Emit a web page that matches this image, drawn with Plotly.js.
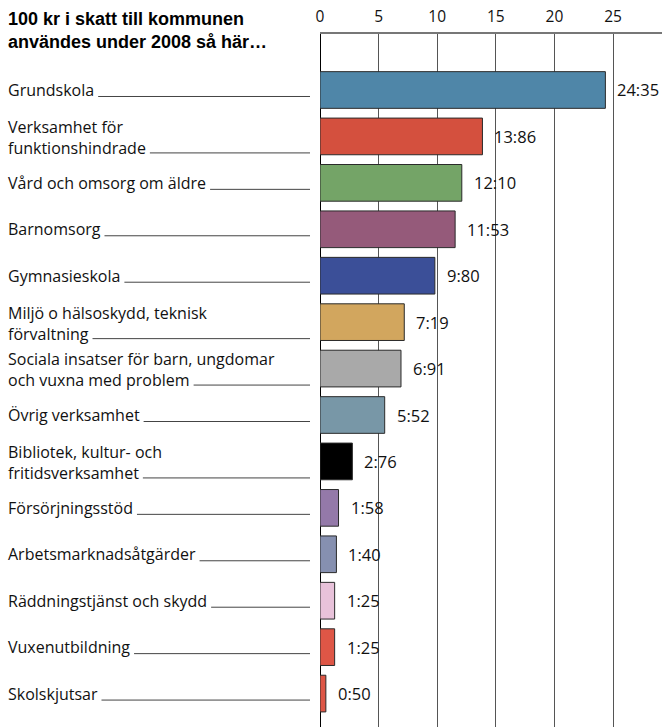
<!DOCTYPE html>
<html>
<head>
<meta charset="utf-8">
<script src="https://cdn.plot.ly/plotly-3.0.1.min.js"></script>
<style>html,body{margin:0;padding:0;background:#fff;}#chart{width:662px;height:727px;}</style>
</head>
<body>
<div id="chart"></div>
<script>
const categories = [
  'Grundskola',
  'Verksamhet för<br>funktionshindrade',
  'Vård och omsorg om äldre',
  'Barnomsorg',
  'Gymnasieskola',
  'Miljö o hälsoskydd, teknisk<br>förvaltning',
  'Sociala insatser för barn, ungdomar<br>och vuxna med problem',
  'Övrig verksamhet',
  'Bibliotek, kultur- och<br>fritidsverksamhet',
  'Försörjningsstöd',
  'Arbetsmarknadsåtgärder',
  'Räddningstjänst och skydd',
  'Vuxenutbildning',
  'Skolskjutsar'
];
const values = [24.35, 13.86, 12.10, 11.53, 9.80, 7.19, 6.91, 5.52, 2.76, 1.58, 1.40, 1.25, 1.25, 0.50];
const barColors = ['#4f86a8', '#d4503e', '#74a467', '#955a7a', '#3b4f98', '#d2a65e', '#a9a9a9', '#7897a7', '#000000', '#9479a9', '#8690b0', '#e8c2da', '#de5646', '#de5646'];
const tickVals = [0, 5, 10, 15, 20, 25];
const titleText = '100 kr i skatt till kommunen<br>användes under 2008 så här…';

const plotLeft = 320, plotW = 342;
const textLeftPx = 8;
const labelSize = 16;
const labelX = (textLeftPx - 3 - plotLeft) / plotW;
const lineEndX = (310 - plotLeft) / plotW;
const labelFont = {family: 'Open Sans, sans-serif', size: labelSize, color: '#111'};

const ctx = document.createElement('canvas').getContext('2d');
ctx.font = labelSize + 'px "Open Sans"';

const annotations = [];
const shapes = [];
categories.forEach((c, i) => {
  const parts = c.split('<br>');
  const twoLine = parts.length > 1;
  const lastW = ctx.measureText(parts[parts.length - 1]).width;
  annotations.push({
    x: labelX, xref: 'paper', xanchor: 'left', align: 'left',
    y: c, yref: 'y', yanchor: 'middle', yshift: twoLine ? -1 : 0,
    text: c, showarrow: false, borderpad: 2,
    font: labelFont
  });
  shapes.push({
    type: 'line', xref: 'paper',
    x0: (textLeftPx + lastW + 4 - plotLeft) / plotW, x1: lineEndX,
    yref: 'y', ysizemode: 'pixel', yanchor: c,
    y0: twoLine ? -16.5 : -6.5, y1: twoLine ? -16.5 : -6.5,
    line: {color: '#444', width: 1}, layer: 'below'
  });
  annotations.push({
    x: values[i], xref: 'x', xanchor: 'left', xshift: 10,
    y: c, yref: 'y', yanchor: 'middle',
    text: values[i].toFixed(2).replace('.', ':'), showarrow: false,
    font: {family: 'Open Sans, sans-serif', size: 16.5, color: '#111'}
  });
});

// small white break in the grid just under the top axis line
shapes.push({
  type: 'rect', xref: 'x', x0: 0.15, x1: plotW / 11.72,
  yref: 'paper', ysizemode: 'pixel', yanchor: 1, y0: -16, y1: -24,
  fillcolor: '#ffffff', line: {width: 0}, layer: 'between'
});

const trace = {
  type: 'bar', orientation: 'h',
  x: values, y: categories,
  marker: {color: barColors, line: {color: '#2a2a2a', width: 1}},
  hoverinfo: 'skip'
};

const layout = {
  width: 662, height: 727,
  margin: {l: plotLeft, r: 0, t: 34, b: 0, pad: 0},
  paper_bgcolor: '#fff', plot_bgcolor: '#fff',
  showlegend: false,
  bargap: 0.21,
  title: {
    text: titleText, x: 8 / 662, xanchor: 'left', xref: 'container',
    y: 1 - 25 / 727, yanchor: 'middle', yref: 'container',
    font: {family: 'Liberation Sans, Arial, sans-serif', size: 18, color: '#000', weight: 'bold'}
  },
  xaxis: {
    side: 'top', range: [0, plotW / 11.72], autorange: false,
    tickvals: tickVals, ticktext: tickVals.map(String),
    ticks: '', showgrid: true, gridcolor: '#555', gridwidth: 1,
    zeroline: true, zerolinecolor: '#000', zerolinewidth: 1,
    showline: true, linecolor: '#777', linewidth: 2,
    tickfont: {family: 'Open Sans, sans-serif', size: 15.5, color: '#111'},
    ticklabelstandoff: 4, fixedrange: true
  },
  yaxis: {
    type: 'category', categoryorder: 'array', categoryarray: categories,
    range: [13.72, -1.206], autorange: false,
    showticklabels: false, ticks: '', showgrid: false, zeroline: false, showline: false
  },
  annotations: annotations,
  shapes: shapes
};

Plotly.newPlot('chart', [trace], layout, {displayModeBar: false, staticPlot: true});
</script>
</body>
</html>
